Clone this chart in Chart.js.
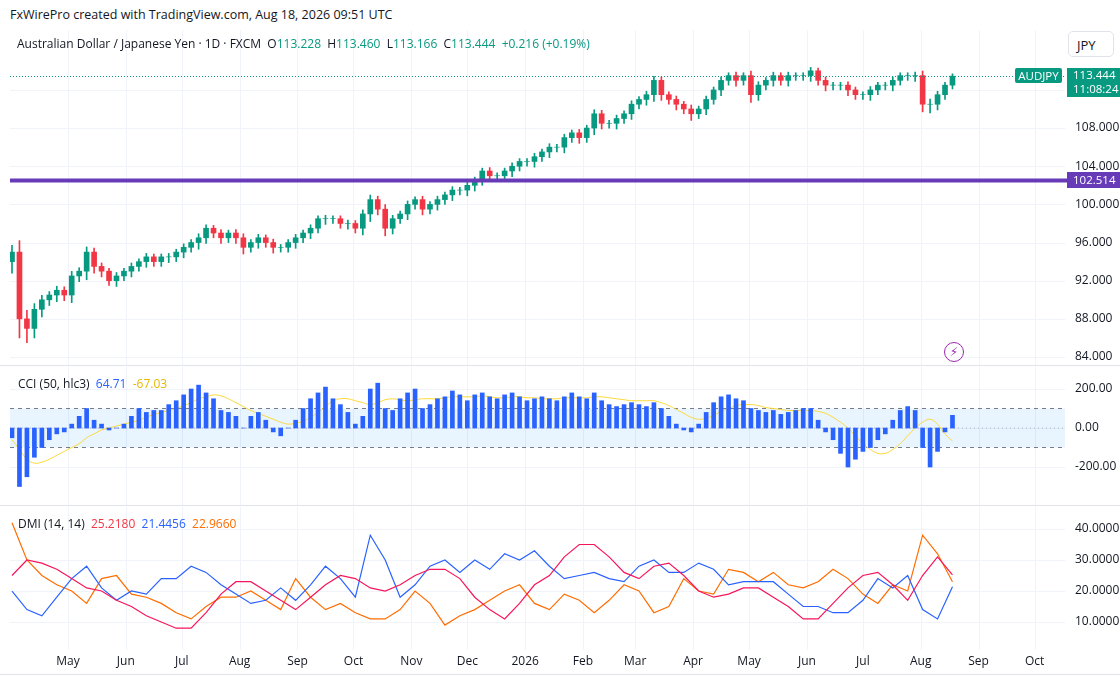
<!DOCTYPE html>
<html><head><meta charset="utf-8">
<script src="https://cdn.jsdelivr.net/npm/chart.js@4/dist/chart.umd.min.js"></script>
<style>
body{margin:0;width:1120px;height:675px;background:#fff;font-family:"Open Sans","DejaVu Sans",sans-serif;overflow:hidden;position:relative;color:#131722}
.abs{position:absolute}
canvas{position:absolute;left:0}
.lbl{position:absolute;font-size:12px;white-space:nowrap}
</style></head><body>
<canvas id="c1" width="1120" height="336" style="top:30px"></canvas>
<canvas id="c2" width="1120" height="139" style="top:367px"></canvas>
<canvas id="c3" width="1120" height="168" style="top:507px"></canvas>

<div class="lbl" style="left:10px;top:6px;font-size:12.5px">FxWirePro created with TradingView.com, Aug 18, 2026 09:51 UTC</div>
<div class="lbl" style="left:17px;top:35px;font-size:12px">Australian Dollar / Japanese Yen · 1D · FXCM&nbsp; O<span style="color:#089981">113.228</span>&nbsp; H<span style="color:#089981">113.460</span>&nbsp; L<span style="color:#089981">113.166</span>&nbsp; C<span style="color:#089981">113.444</span>&nbsp; <span style="color:#089981">+0.216 (+0.19%)</span></div>
<div class="lbl" style="left:1068px;top:31px;width:46px;height:26px;border:1px solid #e0e3eb;border-radius:5px;line-height:26px;padding-left:8px;box-sizing:border-box;font-size:13px;background:#fff">JPY</div>
<div class="lbl" style="left:18px;top:375px">CCI (50, hlc3)&nbsp; <span style="color:#2962ff">64.71</span>&nbsp; <span style="color:#e6b800">-67.03</span></div>
<div class="lbl" style="left:18px;top:515px">DMI (14, 14)&nbsp; <span style="color:#f23645">25.2180</span>&nbsp; <span style="color:#2962ff">21.4456</span>&nbsp; <span style="color:#ff6d00">22.9660</span></div>
<div class="lbl" style="left:1015px;top:68px;width:47px;height:15px;background:#089981;color:#fff;font-size:11.5px;text-align:center;line-height:15px;border-radius:2px">AUDJPY</div>
<div class="lbl" style="left:1067px;top:68px;width:53px;height:29px;background:#089981;color:#fff;font-size:11.5px;line-height:14px;padding-left:6px;box-sizing:border-box">113.444<br>11:08:24</div>
<div class="lbl" style="left:1067px;top:172px;width:53px;height:16px;background:#673ab7;color:#fff;font-size:11.5px;line-height:16px;padding-left:6px;box-sizing:border-box">102.514</div>
<div class="abs" style="left:944px;top:342px;width:18px;height:18px;border:1.5px solid #9c27b0;border-radius:50%;color:#9c27b0;font-size:12px;text-align:center;line-height:18px">⚡</div>

<script>
const monthDays=[30,61,91,122,153,183,214,244,275,306,334,365,395,426,456,487,518,548];
const monthLabels=["May","Jun","Jul","Aug","Sep","Oct","Nov","Dec","2026","Feb","Mar","Apr","May","Jun","Jul","Aug","Sep","Oct"];
const candleStep=4;
const closes=[95,88,87,89,90,90.5,91,90.5,92.5,93,95,93.5,93,92,92.5,93,93.5,94,94.5,94,94.5,94.5,95,95.5,96,96.5,97.5,97,96.5,97,96.5,95.5,96,96.5,96,95.5,95.5,96,96.5,97,97.5,98.5,98.5,98.5,98,98,97.5,99,100.5,99.5,97.5,98.5,99,100,100.5,99.5,100,100.5,101,101.5,101.5,102,102.5,103.5,103,103,103.5,104,104.5,104.5,105,105.5,106,106,107,107.5,107,108,109.5,108.5,108.5,109,109.5,110.5,111,111.5,113,111.5,111,110.5,110,109.5,110,111,112,113,113.5,113,113.5,111.5,112.5,113,113.5,113,113.5,113.5,113.5,114,113,112.5,112.5,112.5,112,111.5,111.5,112,112.5,112.5,113,113.5,113.5,113.5,110.5,110.5,111.5,112.5,113.444];
const firstOpen=94;
const wicks=[1.2,2,1.5,1,0.8,0.6,0.7,0.6,0.8,0.6,0.9,0.7,0.6,0.5,0.6,0.5,0.6,0.5,0.6,0.5,0.5,0.6,0.5,0.6,0.5,0.7,0.6,0.5,0.6,0.5,0.6,0.7,0.5,0.6,0.5,0.6,0.5,0.5,0.6,0.5,0.6,0.5,0.6,0.5,0.5,0.6,0.5,0.7,0.8,0.6,0.8,0.6,0.5,0.6,0.5,0.6,0.5,0.6,0.5,0.6,0.5,0.6,0.6,0.5,0.6,0.5,0.5,0.6,0.5,0.5,0.6,0.5,0.6,0.5,0.6,0.5,0.6,0.5,0.7,0.6,0.5,0.6,0.5,0.6,0.5,0.6,0.7,0.6,0.5,0.6,0.5,0.7,0.5,0.6,0.5,0.6,0.5,0.6,0.5,0.8,0.6,0.5,0.6,0.5,0.6,0.5,0.5,0.6,0.5,0.6,0.5,0.5,0.6,0.5,0.5,0.6,0.5,0.5,0.6,0.5,0.5,0.6,0.8,0.9,0.6,0.5,0.4];
const priceTicks=[84,88,92,96,100,104,108,112];
const supportLevel=102.514, lastPrice=113.444;
const cci=[-50,-300,-250,-150,-100,-60,-30,-20,20,60,100,40,20,-10,0,20,60,100,80,90,90,120,140,170,200,220,180,150,90,80,60,0,60,80,40,-20,-40,0,40,100,150,180,210,150,120,80,20,60,200,230,100,90,150,180,200,100,120,150,160,190,170,140,170,180,160,150,170,180,160,140,150,160,150,140,160,180,160,150,180,140,120,110,120,130,120,110,130,100,60,20,-10,-20,20,80,130,160,170,150,140,100,90,80,90,70,80,90,100,100,40,-20,-60,-130,-200,-160,-120,-100,-60,-30,40,90,110,90,-100,-200,-120,-20,65];
const cciMa=[-60,-110,-160,-180,-175,-160,-140,-120,-100,-80,-50,-30,-10,0,10,20,30,40,55,70,80,90,100,115,130,150,160,170,165,150,130,110,90,75,60,45,30,20,25,35,55,80,110,140,150,150,140,130,120,130,145,150,145,140,145,150,150,150,155,160,160,160,160,165,160,155,155,160,160,155,155,150,150,150,155,155,155,155,160,160,155,150,145,140,140,140,140,130,115,95,75,55,45,50,65,85,100,115,120,120,115,105,100,95,90,90,90,90,85,75,55,30,0,-40,-80,-110,-130,-130,-110,-80,-40,0,30,45,20,-30,-67];
const cciTicks=[200,0,-200];
const dmiStep=8;
const adx=[25,30,29,27,24,21,20,17,15,12,10,8,8,13,19,23,23,20,17,14,18,22,25,24,21,20,22,25,27,27,24,18,14,11,16,22,25,31,35,35,31,26,24,28,29,25,20,18,19,21,21,18,15,11,11,16,21,25,26,22,17,25,31,25.2];
const diPlus=[20,14,12,18,24,28,21,17,20,19,24,24,28,26,22,19,16,17,21,17,22,28,24,18,38,30,18,22,28,30,26,30,27,32,30,33,28,24,25,26,24,23,28,30,26,26,29,27,22,23,23,23,19,15,15,13,13,17,24,21,25,14,11,21.4];
const diMinus=[42,30,25,22,20,16,24,25,19,18,16,13,11,15,18,18,20,17,14,24,18,14,16,13,11,11,14,20,16,9,12,14,17,20,22,16,14,19,17,13,17,22,20,13,15,24,20,19,27,26,23,26,22,21,23,27,24,19,16,22,20,38,32,23];
const dmiTicks=[10,20,30,40];

const XMIN=-1.07, XMAX=564.3, GRID='#f0f3fa';
Chart.defaults.animation=false;
const axes=(ymin,ymax)=>({x:{type:'linear',min:XMIN,max:XMAX,display:false,offset:false},y:{min:ymin,max:ymax,display:false}});
const gridPlugin=(yt,fmt,showMonths)=>({id:'grid',beforeDatasetsDraw(ch){const {ctx,chartArea:a,scales:{x,y}}=ch;ctx.save();
  ctx.strokeStyle=GRID;ctx.lineWidth=1;
  monthDays.forEach(d=>{const px=Math.round(x.getPixelForValue(d))+0.5;ctx.beginPath();ctx.moveTo(px,0);ctx.lineTo(px,a.bottom);ctx.stroke();});
  yt.forEach(v=>{const py=Math.round(y.getPixelForValue(v))+0.5;ctx.beginPath();ctx.moveTo(a.left,py);ctx.lineTo(a.right,py);ctx.stroke();});
  ctx.restore();},
  afterDraw(ch){const {ctx,chartArea:a,scales:{x,y}}=ch;ctx.save();ctx.fillStyle='#131722';ctx.font='12px "Open Sans"';ctx.textBaseline='middle';ctx.textAlign='left';
  yt.forEach(v=>ctx.fillText(fmt(v),a.right+10,y.getPixelForValue(v)));
  if(showMonths){ctx.textAlign='center';monthDays.forEach((d,i)=>ctx.fillText(monthLabels[i],x.getPixelForValue(d),a.bottom+12));}
  ctx.strokeStyle='#e0e3eb';ctx.beginPath();ctx.moveTo(0,ch.height-0.5);ctx.lineTo(1120,ch.height-0.5);ctx.stroke();
  ctx.restore();}});
const base=(bottom)=>({responsive:false,plugins:{legend:{display:false},tooltip:{enabled:false}},layout:{padding:{left:10,right:55,top:0,bottom}}});

let bodies=[],wickD=[],cols=[];
closes.forEach((c,i)=>{const o=i===0?firstOpen:closes[i-1];const d=i*candleStep;bodies.push({x:d,y:[o,c]});
  wickD.push({x:d,y:[Math.min(o,c)-wicks[i],Math.max(o,c)+wicks[i]*0.6]});cols.push(c>=o?'#089981':'#f23645');});
const hlines={id:'hl',afterDatasetsDraw(ch){const {ctx,chartArea:a,scales:{y}}=ch;
  ctx.save();let py=y.getPixelForValue(supportLevel);ctx.strokeStyle='#673ab7';ctx.lineWidth=4;
  ctx.beginPath();ctx.moveTo(a.left,py);ctx.lineTo(1120,py);ctx.stroke();
  py=Math.round(y.getPixelForValue(lastPrice))+0.5;ctx.strokeStyle='#089981';ctx.lineWidth=1;ctx.setLineDash([1,2]);
  ctx.beginPath();ctx.moveTo(a.left,py);ctx.lineTo(a.right,py);ctx.stroke();ctx.restore();}};
new Chart(document.getElementById('c1'),{type:'bar',data:{datasets:[
  {data:wickD,backgroundColor:cols,barThickness:1,grouped:false},
  {data:bodies,backgroundColor:cols,barThickness:5,grouped:false}]},
  options:{...base(0),scales:axes(83.06,118.28)},plugins:[gridPlugin(priceTicks,v=>v.toFixed(3),false),hlines]});

const band={id:'band',beforeDatasetsDraw(ch){const {ctx,chartArea:a,scales:{y}}=ch;ctx.save();
  const t=y.getPixelForValue(100),b=y.getPixelForValue(-100),z=y.getPixelForValue(0);
  ctx.fillStyle='rgba(33,150,243,0.1)';ctx.fillRect(a.left,t,a.right-a.left,b-t);
  ctx.strokeStyle='#787b86';ctx.lineWidth=1;ctx.setLineDash([4,4]);
  [t,b].forEach(p=>{ctx.beginPath();ctx.moveTo(a.left,p);ctx.lineTo(a.right,p);ctx.stroke();});
  ctx.strokeStyle='#b2b5be';ctx.setLineDash([1,3]);ctx.beginPath();ctx.moveTo(a.left,z);ctx.lineTo(a.right,z);ctx.stroke();
  ctx.restore();}};
new Chart(document.getElementById('c2'),{type:'bar',data:{datasets:[
  {data:cci.map((v,i)=>({x:i*candleStep,y:v})),backgroundColor:'#2962ff',barThickness:4},
  {type:'line',data:cciMa.map((v,i)=>({x:i*candleStep,y:v})),borderColor:'#fdd835',borderWidth:1,pointRadius:0,tension:0.4}]},
  options:{...base(0),scales:axes(-400,313)},plugins:[gridPlugin(cciTicks,v=>v.toFixed(2),false),band]});

const ln=(arr,c)=>({data:arr.map((v,i)=>({x:i*dmiStep,y:v})),borderColor:c,borderWidth:1.2,pointRadius:0,tension:0});
new Chart(document.getElementById('c3'),{type:'line',data:{datasets:[ln(adx,'#f7155a'),ln(diPlus,'#2962ff'),ln(diMinus,'#ff6d00')]},
  options:{...base(25),scales:axes(0.97,47.1)},plugins:[gridPlugin(dmiTicks,v=>v.toFixed(4),true)]});
</script></body></html>
